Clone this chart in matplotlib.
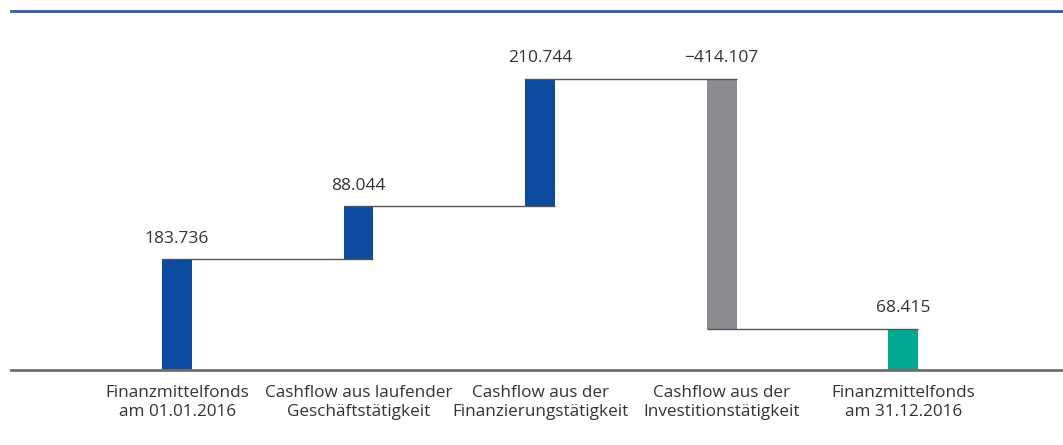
import matplotlib.pyplot as plt
import numpy as np

plt.rcParams['font.family'] = ['Open Sans', 'DejaVu Sans']

# data
categories = ["Finanzmittelfonds\nam 01.01.2016",
              "Cashflow aus laufender\nGeschäftstätigkeit",
              "Cashflow aus der\nFinanzierungstätigkeit",
              "Cashflow aus der\nInvestitionstätigkeit",
              "Finanzmittelfonds\nam 31.12.2016"]
changes = [183.736, 88.044, 210.744, -414.107, 68.415]
labels = ["183.736", "88.044", "210.744", "\u2212414.107", "68.415"]
is_total = [True, False, False, False, True]

col_blue = "#0b4ca1"
col_gray = "#8b8c90"
col_teal = "#00a990"
col_text = "#333333"

fig = plt.figure(figsize=(10.63, 4.45), dpi=100)
ax = fig.add_axes([11 / 1063, 1 - 370 / 445, 1052 / 1063, 359 / 445])

x = np.arange(len(changes))
w = 0.163
bottoms = []
heights = []
running = 0.0
for i, c in enumerate(changes):
    if is_total[i] and i > 0:
        bottoms.append(0.0)
        heights.append(c)
        running = c
    else:
        bottoms.append(running)
        heights.append(c)
        running += c

colors = [col_blue, col_blue, col_blue, col_gray, col_teal]
ax.bar(x, heights, bottom=bottoms, width=w, color=colors, zorder=2)

# connector lines
tops = [b + h for b, h in zip(bottoms, heights)]
for i in range(len(changes) - 1):
    lvl = tops[i]
    ax.plot([x[i] - w / 2, x[i + 1] + w / 2], [lvl, lvl], color="#555555",
            lw=1.0, zorder=3, solid_capstyle="butt")

# value labels
for i in range(len(changes)):
    top = max(bottoms[i], tops[i])
    ax.annotate(labels[i], (x[i], top), xytext=(0, 9), textcoords="offset points",
                ha="center", va="bottom", fontsize=12.5, color=col_text)

ax.set_xlim(-0.915, 4.88)
ax.set_ylim(0, 595)
ax.set_yticks([])
ax.set_xticks(x)
ax.set_xticklabels(categories, fontsize=12.3, color=col_text, linespacing=1.25)
ax.tick_params(axis="x", length=0, pad=11)
for s in ["left", "right"]:
    ax.spines[s].set_visible(False)
ax.spines["bottom"].set_color("#6f6f6f")
ax.spines["bottom"].set_linewidth(2)
ax.spines["top"].set_color("#2d5fab")
ax.spines["top"].set_linewidth(2)

fig.savefig("out.png", dpi=100)
